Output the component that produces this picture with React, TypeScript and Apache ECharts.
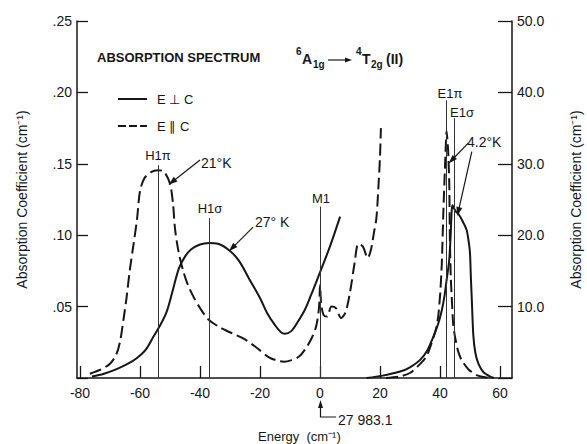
import React, { useEffect, useRef } from 'react';
import * as echarts from 'echarts';

// ---- data ----
const xTicks = [-80, -60, -40, -20, 0, 20, 40, 60];

// E ⊥ C, 27°K (left axis)
const perpLeftX = [-76, -72, -68, -64, -61, -58, -55.5, -53, -51, -49, -47, -45, -43, -40, -37, -34, -30, -27, -23.5, -20, -17.5, -15, -13, -11.7, -9.5, -7.5, -5, -3, 0, 3.3, 6.7];
const perpLeftY = [0.001, 0.003, 0.006, 0.010, 0.014, 0.020, 0.029, 0.038, 0.047, 0.062, 0.077, 0.085, 0.090, 0.0935, 0.0946, 0.094, 0.089, 0.082, 0.069, 0.056, 0.045, 0.037, 0.032, 0.031, 0.033, 0.039, 0.048, 0.058, 0.074, 0.092, 0.113];

// E ∥ C, 21°K (left axis)
const paraLeftX = [-76.7, -73, -70, -68, -66.7, -65.5, -64.5, -63.4, -62.2, -61, -60, -58.5, -56.5, -54, -52, -50, -49, -48.3, -47.2, -45.6, -44, -42.2, -40, -37.2, -33, -29, -25, -21, -17, -14, -12, -9.5, -7, -5, -3, -1.3, -0.3, 0, 0.4, 1.2, 2.4, 3.8, 5.3, 7, 8.5, 10, 11.5, 12.8, 14.3, 15.9, 17, 18, 18.8, 19.5, 20, 20.3];
const paraLeftY = [0.003, 0.006, 0.010, 0.016, 0.025, 0.041, 0.056, 0.0755, 0.093, 0.111, 0.131, 0.140, 0.144, 0.1455, 0.1445, 0.136, 0.122, 0.104, 0.089, 0.075, 0.065, 0.057, 0.049, 0.041, 0.035, 0.031, 0.027, 0.021, 0.0145, 0.012, 0.0114, 0.0125, 0.015, 0.020, 0.027, 0.036, 0.050, 0.065, 0.052, 0.044, 0.043, 0.050, 0.049, 0.042, 0.046, 0.060, 0.080, 0.094, 0.092, 0.084, 0.090, 0.102, 0.112, 0.135, 0.155, 0.175];

// E ⊥ C, 4.2°K (right axis)
const perpRightX = [15.5, 20.5, 26.7, 30, 33.3, 35.8, 37.8, 39.4, 40.6, 41.5, 42.2, 43, 43.5, 43.9, 44.2, 44.6, 45.3, 46.1, 47.5, 48.9, 49.6, 50, 50.3, 50.6, 51.1, 51.8, 52.8, 54.5, 56.7, 58];
const perpRightY = [0, 0.3, 0.9, 1.5, 2.5, 3.9, 5.8, 7.6, 9.5, 11.5, 13.7, 16.2, 19.5, 23.5, 24.2, 23.8, 23.3, 23.0, 22, 20.7, 19, 17.5, 14, 11, 6, 3.5, 2.0, 0.8, 0.2, 0];

// E ∥ C, 4.2°K (right axis)
const paraRightX = [22, 26.5, 30, 33, 35.5, 37.2, 38.5, 39.4, 40.1, 40.6, 41.1, 41.7, 42.2, 42.7, 43.1, 43.3, 43.6, 43.9, 44.4, 45, 46, 47.2, 49.5, 52.2, 55, 57.5];
const paraRightY = [0, 0.2, 0.7, 1.8, 3.0, 4.9, 6.6, 8.6, 12, 16, 23, 30, 34.6, 32, 27, 19.3, 14, 11.4, 7.5, 5.8, 3.8, 2.5, 1.2, 0.4, 0.1, 0];

// reference lines
const leftRefNames = ['H1π', 'H1σ', 'M1'];
const leftRefX = [-53.9, -36.8, 0];
const leftRefTop = [0.149, 0.112, 0.12];
const rightRefNames = ['E1π', 'E1σ'];
const rightRefX = [42.2, 44.7];
const rightRefTop = [38.9, 36.4];

const seriesNames = ['E ⊥ C', 'E ∥ C'];

const zip = (xs: number[], ys: number[]) => xs.map((x, i) => [x, ys[i]]);

const FONT = '"Liberation Sans", Arial, sans-serif';
const INK = '#161616';

export default function App() {
  const ref = useRef<HTMLDivElement>(null);
  useEffect(() => {
    if (!ref.current) return;
    const chart = echarts.init(ref.current, null, { renderer: 'svg' });

    const refLine = (x: number, top: number) => [
      { coord: [x, 0], symbol: 'none' },
      { coord: [x, top], symbol: 'none' },
    ];
    const arrow = (x1: number, y1: number, x2: number, y2: number) => [
      { coord: [x1, y1], symbol: 'none' },
      { coord: [x2, y2], symbol: 'triangle', symbolSize: [6, 9] },
    ];

    const txt = (text: string, x: number, y: number, size = 14, align = 'center', weight = 'normal') => ({
      type: 'text',
      x,
      y,
      style: {
        text,
        fill: INK,
        font: `${weight} ${size}px ${FONT}`,
        align,
        verticalAlign: 'middle',
      },
    });

    const option: any = {
      animation: false,
      backgroundColor: '#ffffff',
      grid: { left: 77, right: 75, top: 21, bottom: 66, outerBoundsMode: 'none', containLabel: false },
      xAxis: {
        type: 'value',
        min: -81,
        max: 64,
        axisLine: { show: true, onZero: false, lineStyle: { color: INK, width: 1.5 } },
        axisTick: { show: true, inside: true, length: 12, customValues: xTicks, lineStyle: { color: INK, width: 1.3 } },
        axisLabel: { customValues: xTicks, fontFamily: FONT, fontSize: 14, color: INK, margin: 8 },
        splitLine: { show: false },
      },
      yAxis: [
        {
          type: 'value',
          position: 'left',
          min: 0,
          max: 0.25,
          interval: 0.05,
          axisLine: { show: true, onZero: false, lineStyle: { color: INK, width: 1.5 } },
          axisTick: { show: true, inside: true, length: 11, lineStyle: { color: INK, width: 1.3 } },
          axisLabel: {
            fontFamily: FONT,
            fontSize: 14,
            color: INK,
            margin: 5,
            formatter: (v: number) => (v === 0 ? '' : '.' + Math.round(v * 100).toString().padStart(2, '0')),
          },
          splitLine: { show: false },
          name: 'Absorption Coefficient (cm⁻¹)',
          nameLocation: 'middle',
          nameRotate: 90,
          nameGap: 48,
          nameTextStyle: { fontFamily: FONT, fontSize: 14, color: INK },
        },
        {
          type: 'value',
          position: 'right',
          min: 0,
          max: 50,
          interval: 10,
          axisLine: { show: true, onZero: false, lineStyle: { color: INK, width: 1.5 } },
          axisTick: { show: true, inside: true, length: 14, lineStyle: { color: INK, width: 1.3 } },
          axisLabel: {
            fontFamily: FONT,
            fontSize: 14,
            color: INK,
            margin: 5,
            formatter: (v: number) => (v === 0 ? '' : v.toFixed(1)),
          },
          splitLine: { show: false },
          name: 'Absorption Coefficient (cm⁻¹)',
          nameLocation: 'middle',
          nameRotate: 90,
          nameGap: 57,
          nameTextStyle: { fontFamily: FONT, fontSize: 14, color: INK },
        },
      ],
      series: [
        {
          name: seriesNames[0],
          type: 'line',
          yAxisIndex: 0,
          data: zip(perpLeftX, perpLeftY),
          smooth: 0.35,
          symbol: 'none',
          lineStyle: { color: INK, width: 2 },
          itemStyle: { color: INK },
          markLine: {
            silent: true,
            animation: false,
            label: { show: false },
            lineStyle: { color: '#333', width: 1, type: 'solid' },
            data: leftRefX.map((x, i) => refLine(x, leftRefTop[i])),
          },
        },
        {
          name: seriesNames[1],
          type: 'line',
          yAxisIndex: 0,
          data: zip(paraLeftX, paraLeftY),
          smooth: 0.3,
          symbol: 'none',
          lineStyle: { color: INK, width: 2, type: [12, 5] },
          itemStyle: { color: INK },
          markLine: {
            silent: true,
            animation: false,
            label: { show: false },
            lineStyle: { color: INK, width: 1.2, type: 'solid' },
            itemStyle: { color: INK },
            data: [arrow(-40, 0.1527, -49.3, 0.1373), arrow(-22.3, 0.1057, -29.3, 0.091)],
          },
        },
        {
          name: seriesNames[0],
          type: 'line',
          yAxisIndex: 1,
          data: zip(perpRightX, perpRightY),
          smooth: 0.2,
          symbol: 'none',
          lineStyle: { color: INK, width: 2 },
          itemStyle: { color: INK },
          markLine: {
            silent: true,
            animation: false,
            label: { show: false },
            lineStyle: { color: '#333', width: 1, type: 'solid' },
            data: rightRefX.map((x, i) => refLine(x, rightRefTop[i])),
          },
        },
        {
          name: seriesNames[1],
          type: 'line',
          yAxisIndex: 1,
          data: zip(paraRightX, paraRightY),
          smooth: 0.2,
          symbol: 'none',
          lineStyle: { color: INK, width: 2, type: [12, 5] },
          itemStyle: { color: INK },
          markLine: {
            silent: true,
            animation: false,
            label: { show: false },
            lineStyle: { color: INK, width: 1.2, type: 'solid' },
            itemStyle: { color: INK },
            data: [arrow(49.4, 32.9, 43.9, 30.5), arrow(50.6, 31.7, 46.1, 23.3)],
          },
        },
      ],
      graphic: [
        txt('ABSORPTION SPECTRUM', 97, 57, 13, 'left', 'bold'),
        // 6A1g -> 4T2g(II)
        txt('6', 296, 51, 10, 'left', 'bold'),
        txt('A', 302, 59, 14, 'left', 'bold'),
        txt('1g', 313, 64, 10, 'left', 'bold'),
        { type: 'line', shape: { x1: 328, y1: 60, x2: 347, y2: 60 }, style: { stroke: INK, lineWidth: 1.2 } },
        { type: 'polygon', shape: { points: [[352, 60], [345, 57.5], [345, 62.5]] }, style: { fill: INK } },
        txt('4', 356, 51, 10, 'left', 'bold'),
        txt('T', 362, 59, 14, 'left', 'bold'),
        txt('2g', 371, 64, 10, 'left', 'bold'),
        txt('(II)', 386, 59, 14, 'left', 'bold'),
        // legend
        { type: 'line', shape: { x1: 118, y1: 99, x2: 147, y2: 99 }, style: { stroke: INK, lineWidth: 2 } },
        { type: 'line', shape: { x1: 118, y1: 126, x2: 147, y2: 126 }, style: { stroke: INK, lineWidth: 2, lineDash: [8, 3] } },
        txt(seriesNames[0], 157, 99, 13, 'left'),
        txt(seriesNames[1], 157, 126, 13, 'left'),
        // reference line labels
        txt(leftRefNames[0], 158, 155, 13),
        txt(leftRefNames[1], 210, 208, 13),
        txt(leftRefNames[2], 321, 198, 13),
        txt(rightRefNames[0], 450, 93, 13),
        txt(rightRefNames[1], 462, 112, 13),
        // temperatures
        txt('21°K', 201, 163, 14, 'left'),
        txt('27° K', 255, 222, 14, 'left'),
        txt('4.2°K', 467, 142, 14, 'left'),
        // origin note
        {
          type: 'polyline',
          shape: { points: [[336, 417], [320.5, 417], [320.5, 405]] },
          style: { stroke: INK, lineWidth: 1.2, fill: 'none' },
        },
        {
          type: 'polygon',
          shape: { points: [[320.5, 400], [318, 408], [323, 408]] },
          style: { fill: INK },
        },
        txt('27 983.1', 338, 420, 14, 'left'),
        txt('Energy  (cm⁻¹)', 258, 436, 13, 'left'),
      ],
    };

    chart.setOption(option);
    return () => chart.dispose();
  }, []);

  return (
    <div
      ref={ref}
      style={{ position: 'absolute', left: 0, top: 0, width: 587, height: 444, background: '#fff' }}
    />
  );
}
